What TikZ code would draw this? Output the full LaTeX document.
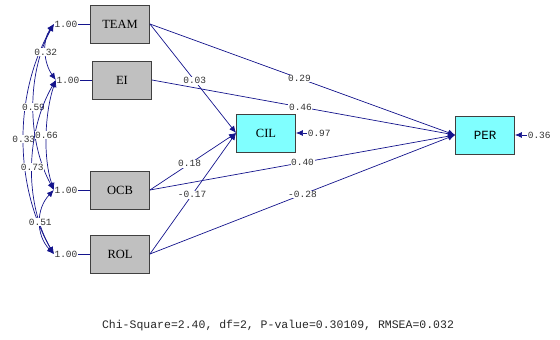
\documentclass[tikz,border=0pt]{standalone}
\usepackage{fontspec}
\setmainfont{Liberation Serif}
\setmonofont{Liberation Mono}
\usetikzlibrary{arrows.meta}
\definecolor{ln}{RGB}{20,20,140}
\definecolor{boxgray}{RGB}{192,192,192}
\definecolor{boxcyan}{RGB}{128,255,255}
\begin{document}
\begin{tikzpicture}[x=1pt,y=-1pt,
 var/.style={draw=black!75, line width=0.9pt, minimum width=59pt, minimum height=38pt, inner sep=0pt, font=\fontsize{12.5}{13}\selectfont},
 obs/.style={var, fill=boxgray},
 lat/.style={var, fill=boxcyan},
 lbl/.style={font=\ttfamily\fontsize{9.5}{10}\selectfont, inner sep=0.6pt, fill=white, text=black!80},
 pth/.style={draw=ln, line width=0.7pt},
 arr/.style={pth, -{Latex[length=7pt,width=6pt]}},
 cov/.style={pth, {Latex[length=7pt,width=6pt]}-{Latex[length=7pt,width=6pt]}},
]
\useasboundingbox (0,0) rectangle (560,340);
% boxes
\node[obs] (TEAM) at (120,24) {TEAM};
\node[obs] (EI) at (122,80) {EI};
\node[obs] (OCB) at (120,190) {OCB};
\node[obs] (ROL) at (120,254) {ROL};
\node[lat] (CIL) at (266,133) {CIL};
\node[lat, font=\ttfamily\fontsize{12.5}{13}\selectfont] (PER) at (485,135) {PER};
% variances
\node[lbl] (vT) at (66,24) {1.00};
\node[lbl] (vE) at (68,80) {1.00};
\node[lbl] (vO) at (66,190) {1.00};
\node[lbl] (vR) at (66,254) {1.00};
\draw[pth] (vT.east) -- (TEAM.west);
\draw[pth] (vE.east) -- (EI.west);
\draw[pth] (vO.east) -- (OCB.west);
\draw[pth] (vR.east) -- (ROL.west);
\coordinate (tT) at (vT.west);
\coordinate (tE) at (vE.west);
\coordinate (tO) at (vO.west);
\coordinate (tR) at (vR.west);
% covariances
\draw[cov] (tT) .. controls +(-40,69) and +(-40,-69) .. (tR) node[midway,lbl] {0.33};
\draw[cov] (tT) .. controls +(-27,50) and +(-27,-50) .. (tO) node[midway,lbl] {0.59};
\draw[cov] (tE) .. controls +(-30,52) and +(-30,-52) .. (tR) node[midway,lbl] {0.73};
\draw[cov] (tE) .. controls +(-11,33) and +(-11,-33) .. (tO) node[midway,lbl] {0.66};
\draw[cov] (tO) .. controls +(-18,19) and +(-18,-19) .. (tR) node[midway,lbl] {0.51};
\draw[cov] (tT) .. controls +(-12,17) and +(-12,-17) .. (tE) node[midway,lbl] {0.32};
% paths
\draw[arr] (TEAM.east) -- (CIL.west) node[pos=0.52,lbl] {0.03};
\draw[arr] (OCB.east) -- (CIL.west) node[pos=0.46,lbl] {0.18};
\draw[arr] (ROL.east) -- (CIL.west) node[pos=0.49,lbl] {-0.17};
\draw[arr] (TEAM.east) -- (PER.west) node[pos=0.49,lbl] {0.29};
\draw[arr] (EI.east) -- (PER.west) node[pos=0.49,lbl] {0.46};
\draw[arr] (OCB.east) -- (PER.west) node[pos=0.5,lbl] {0.40};
\draw[arr] (ROL.east) -- (PER.west) node[pos=0.5,lbl] {-0.28};
% errors
\node[lbl, anchor=west] (eC) at (307,133) {0.97};
\node[lbl, anchor=west] (eP) at (527,135) {0.36};
\draw[arr] (eC.west) -- (CIL.east);
\draw[arr] (eP.west) -- (PER.east);
% fit
\node[font=\ttfamily\fontsize{11.5}{12}\selectfont, text=black!85] (fit) at (278,326) {Chi-Square=2.40, df=2, P-value=0.30109, RMSEA=0.032};
\end{tikzpicture}
\end{document}
